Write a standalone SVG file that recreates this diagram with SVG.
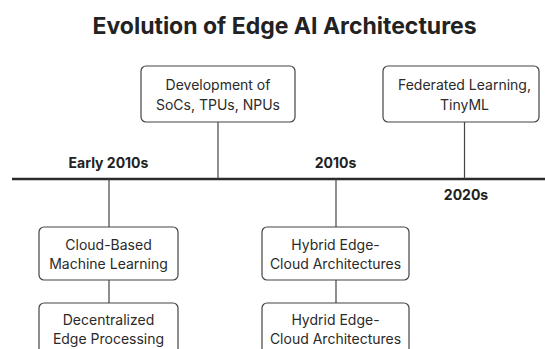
<svg xmlns="http://www.w3.org/2000/svg" width="545" height="349" viewBox="0 0 545 349">
  <style>
    .title { font-family: "Inter", "Liberation Sans", Arial, sans-serif; font-weight: 700; font-size: 23px; fill: #222; }
    .era { font-family: "Inter", "Liberation Sans", Arial, sans-serif; font-weight: 700; font-size: 14px; fill: #222; }
    .box { fill: #fff; stroke: #444; stroke-width: 1.2; }
    .lbl { font-family: "Inter", "Liberation Sans", Arial, sans-serif; font-size: 14px; fill: #2a2a2a; text-anchor: middle; }
    .link { stroke: #444; stroke-width: 1.2; fill: none; }
    .axis { stroke: #2b2b2b; stroke-width: 2.4; fill: none; }
  </style>
  <rect width="545" height="349" fill="#fff"/>

  <text class="title" x="284.5" y="34" text-anchor="middle">Evolution of Edge AI Architectures</text>

  <!-- timeline axis and era labels -->
  <g id="timeline">
    <line class="axis" x1="12" y1="179" x2="545" y2="179"/>
    <text class="era" x="108.5" y="168" text-anchor="middle">Early 2010s</text>
    <text class="era" x="335.5" y="168" text-anchor="middle">2010s</text>
    <text class="era" x="466" y="200" text-anchor="middle">2020s</text>
  </g>

  <!-- connectors -->
  <g id="connectors">
    <line class="link" x1="218" y1="122" x2="218" y2="179"/>
    <line class="link" x1="464.5" y1="122" x2="464.5" y2="179"/>
    <line class="link" x1="109" y1="179" x2="109" y2="227"/>
    <line class="link" x1="109" y1="280" x2="109" y2="303"/>
    <line class="link" x1="336" y1="179" x2="336" y2="227"/>
    <line class="link" x1="336" y1="280" x2="336" y2="303"/>
  </g>

  <g id="socs">
    <rect class="box" x="141" y="66" width="154" height="56" rx="5"/>
    <text class="lbl" x="218" y="90">Development of</text>
    <text class="lbl" x="218" y="110">SoCs, TPUs, NPUs</text>
  </g>

  <g id="federated">
    <rect class="box" x="383" y="66" width="156" height="56" rx="5"/>
    <text class="lbl" x="464.5" y="90">Federated Learning,</text>
    <text class="lbl" x="464.5" y="110">TinyML</text>
  </g>

  <g id="cloud-ml">
    <rect class="box" x="39" y="227" width="139" height="53" rx="5"/>
    <text class="lbl" x="108.5" y="250">Cloud-Based</text>
    <text class="lbl" x="108.5" y="269">Machine Learning</text>
  </g>

  <g id="decentralized">
    <rect class="box" x="39" y="303" width="139" height="53" rx="5"/>
    <text class="lbl" x="108.5" y="325">Decentralized</text>
    <text class="lbl" x="108.5" y="344">Edge Processing</text>
  </g>

  <g id="hybrid">
    <rect class="box" x="262" y="227" width="147" height="53" rx="5"/>
    <text class="lbl" x="335.5" y="250">Hybrid Edge-</text>
    <text class="lbl" x="335.5" y="269">Cloud Architectures</text>
  </g>

  <g id="hydrid">
    <rect class="box" x="262" y="303" width="147" height="53" rx="5"/>
    <text class="lbl" x="335.5" y="325">Hydrid Edge-</text>
    <text class="lbl" x="335.5" y="344">Cloud Architectures</text>
  </g>
</svg>
